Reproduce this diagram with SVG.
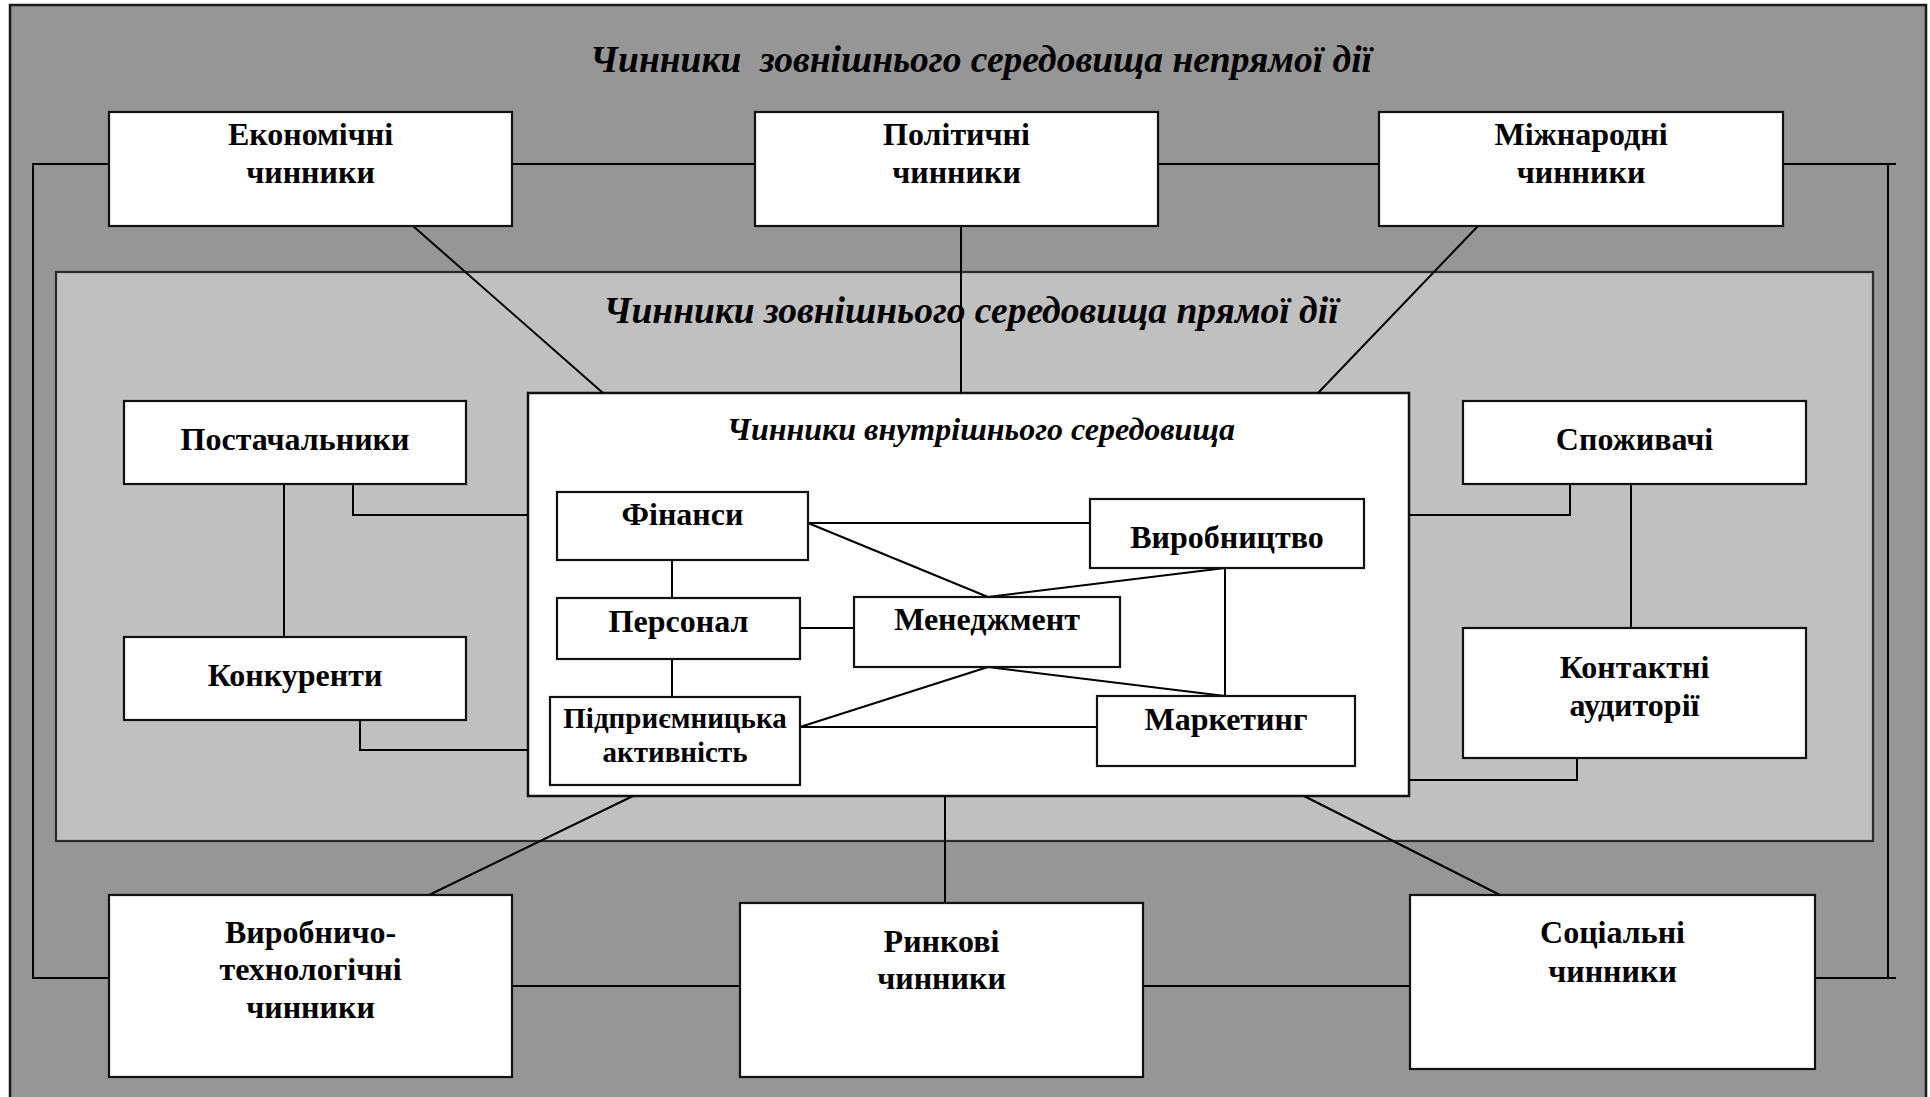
<svg xmlns="http://www.w3.org/2000/svg" width="1930" height="1097" viewBox="0 0 1930 1097">
  <style>
    .box { fill: #ffffff; stroke: #111111; stroke-width: 2.2; }
    .lbl { font-family: "Liberation Serif", "Times New Roman", serif; font-weight: bold; font-size: 32px; fill: #000000; text-anchor: middle; }
    .lbl-sm { font-size: 29px; }
    .ttl { font-family: "Liberation Serif", "Times New Roman", serif; font-weight: bold; font-style: italic; fill: #000000; text-anchor: middle; }
    .conn line, .conn polyline { stroke: #000000; stroke-width: 2; fill: none; }
  </style>

  <!-- environment layers -->
  <g id="indirect-environment">
    <rect x="10" y="5" width="1916" height="1100" fill="#969696" stroke="#1a1a1a" stroke-width="2.5"/>
    <text class="ttl" x="981" y="72" font-size="37.5" xml:space="preserve">Чинники  зовнішнього середовища непрямої дії</text>
  </g>
  <g id="direct-environment">
    <rect x="56" y="272" width="1817" height="569" fill="#c0c0c0" stroke="#2a2a2a" stroke-width="2.2"/>
    <text class="ttl" x="971" y="323" font-size="37.5">Чинники зовнішнього середовища прямої дії</text>
  </g>
  <g id="internal-environment">
    <rect x="528" y="393" width="881" height="403" fill="#ffffff" stroke="#111111" stroke-width="2.5"/>
    <text class="ttl" x="981" y="440" font-size="32">Чинники внутрішнього середовища</text>
  </g>

  <!-- connectors -->
  <g id="connectors" class="conn">
    <!-- outer ring -->
    <polyline points="109,164 33,164 33,978 109,978"/>
    <polyline points="1783,164 1896,164"/>
    <polyline points="1888,164 1888,978"/>
    <polyline points="1815,978 1896,978"/>
    <line x1="512" y1="164" x2="1379" y2="164"/>
    <line x1="512" y1="986" x2="1410" y2="986"/>
    <!-- indirect factors to the enterprise -->
    <line x1="413" y1="226" x2="603" y2="393"/>
    <line x1="961" y1="226" x2="961" y2="393"/>
    <line x1="1478" y1="226" x2="1318" y2="393"/>
    <line x1="633" y1="796" x2="429" y2="895"/>
    <line x1="945" y1="796" x2="945" y2="903"/>
    <line x1="1304" y1="796" x2="1500" y2="895"/>
    <!-- direct factors -->
    <polyline points="353,484 353,515 528,515"/>
    <line x1="284" y1="484" x2="284" y2="637"/>
    <polyline points="360,720 360,750 528,750"/>
    <polyline points="1570,484 1570,515 1409,515"/>
    <line x1="1631" y1="484" x2="1631" y2="628"/>
    <polyline points="1577,758 1577,780 1409,780"/>
    <!-- internal factors -->
    <line x1="808" y1="523" x2="1090" y2="523"/>
    <line x1="808" y1="523" x2="988" y2="597"/>
    <line x1="988" y1="597" x2="1225" y2="568"/>
    <line x1="1225" y1="568" x2="1225" y2="696"/>
    <line x1="672" y1="560" x2="672" y2="598"/>
    <line x1="672" y1="659" x2="672" y2="697"/>
    <line x1="800" y1="628" x2="854" y2="628"/>
    <line x1="988" y1="667" x2="800" y2="727"/>
    <line x1="988" y1="667" x2="1225" y2="696"/>
    <line x1="800" y1="727" x2="1097" y2="727"/>
  </g>

  <!-- indirect factors -->
  <g id="economic">
    <rect class="box" x="109" y="112" width="403" height="114"/>
    <text class="lbl" x="310.5" y="145">Економічні</text>
    <text class="lbl" x="310.5" y="183">чинники</text>
  </g>
  <g id="political">
    <rect class="box" x="755" y="112" width="403" height="114"/>
    <text class="lbl" x="956.5" y="145">Політичні</text>
    <text class="lbl" x="956.5" y="183">чинники</text>
  </g>
  <g id="international">
    <rect class="box" x="1379" y="112" width="404" height="114"/>
    <text class="lbl" x="1581" y="145">Міжнародні</text>
    <text class="lbl" x="1581" y="183">чинники</text>
  </g>
  <g id="production-tech">
    <rect class="box" x="109" y="895" width="403" height="182"/>
    <text class="lbl" x="310.5" y="943">Виробничо-</text>
    <text class="lbl" x="310.5" y="980">технологічні</text>
    <text class="lbl" x="310.5" y="1018">чинники</text>
  </g>
  <g id="market">
    <rect class="box" x="740" y="903" width="403" height="174"/>
    <text class="lbl" x="941.5" y="952">Ринкові</text>
    <text class="lbl" x="941.5" y="989">чинники</text>
  </g>
  <g id="social">
    <rect class="box" x="1410" y="895" width="405" height="174"/>
    <text class="lbl" x="1612.5" y="943">Соціальні</text>
    <text class="lbl" x="1612.5" y="982">чинники</text>
  </g>

  <!-- direct factors -->
  <g id="suppliers">
    <rect class="box" x="124" y="401" width="342" height="83"/>
    <text class="lbl" x="295" y="450">Постачальники</text>
  </g>
  <g id="competitors">
    <rect class="box" x="124" y="637" width="342" height="83"/>
    <text class="lbl" x="295" y="686">Конкуренти</text>
  </g>
  <g id="consumers">
    <rect class="box" x="1463" y="401" width="343" height="83"/>
    <text class="lbl" x="1634.5" y="450">Споживачі</text>
  </g>
  <g id="contact-audiences">
    <rect class="box" x="1463" y="628" width="343" height="130"/>
    <text class="lbl" x="1634.5" y="678">Контактні</text>
    <text class="lbl" x="1634.5" y="716">аудиторії</text>
  </g>

  <!-- internal factors -->
  <g id="finance">
    <rect class="box" x="557" y="492" width="251" height="68"/>
    <text class="lbl" x="682.5" y="525">Фінанси</text>
  </g>
  <g id="personnel">
    <rect class="box" x="557" y="598" width="243" height="61"/>
    <text class="lbl" x="678.5" y="632">Персонал</text>
  </g>
  <g id="entrepreneurship">
    <rect class="box" x="550" y="697" width="250" height="88"/>
    <text class="lbl lbl-sm" x="675" y="728">Підприємницька</text>
    <text class="lbl lbl-sm" x="675" y="762">активність</text>
  </g>
  <g id="management">
    <rect class="box" x="854" y="597" width="266" height="70"/>
    <text class="lbl" x="987" y="630">Менеджмент</text>
  </g>
  <g id="production">
    <rect class="box" x="1090" y="499" width="274" height="69"/>
    <text class="lbl" x="1227" y="548">Виробництво</text>
  </g>
  <g id="marketing">
    <rect class="box" x="1097" y="696" width="258" height="70"/>
    <text class="lbl" x="1226" y="730">Маркетинг</text>
  </g>
</svg>
